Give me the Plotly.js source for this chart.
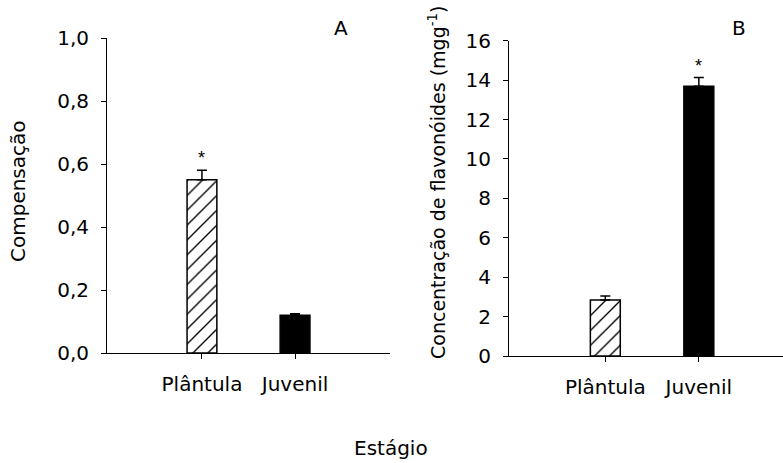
<!DOCTYPE html>
<html>
<head>
<meta charset="utf-8">
<script src="https://cdn.plot.ly/plotly-3.0.1.min.js"></script>
<style>html,body{margin:0;padding:0;background:#fff;}#chart{width:783px;height:463px;}</style>
</head>
<body>
<div id="chart"></div>
<script>
// Data
const categories = ['Plântula', 'Juvenil'];
const compensacao = [0.55, 0.12];
const compensacaoErr = [0.03, 0.005];
const flavonoides = [2.84, 13.69];
const flavonoidesErr = [0.2, 0.44];
const sigA = [true, false];
const sigB = [false, true];
const hatched = [true, false];
const ticksA = [0, 0.2, 0.4, 0.6, 0.8, 1.0];
const ticksB = [0, 2, 4, 6, 8, 10, 12, 14, 16];

const FONT = 'DejaVu Sans, Liberation Sans, Arial, sans-serif';
const FS = 20;

function barMarker(isHatched) {
  const m = {color: isHatched ? 'white' : 'black', line: {color: 'black', width: 1.5}};
  if (isHatched) m.pattern = {shape: '/', fgcolor: 'black', bgcolor: 'white', size: 10.5, solidity: 0.13};
  return m;
}

const traces = [];
categories.forEach((c, i) => {
  traces.push({
    type: 'bar', x: [c], y: [compensacao[i]], xaxis: 'x', yaxis: 'y', width: 0.32,
    marker: barMarker(hatched[i]),
    error_y: {type: 'data', symmetric: false, array: [compensacaoErr[i]], arrayminus: [0], color: 'black', thickness: 1.5, width: 5},
    showlegend: false, hoverinfo: 'none'
  });
  traces.push({
    type: 'bar', x: [c], y: [flavonoides[i]], xaxis: 'x2', yaxis: 'y2', width: 0.32,
    marker: barMarker(hatched[i]),
    error_y: {type: 'data', symmetric: false, array: [flavonoidesErr[i]], arrayminus: [0], color: 'black', thickness: 1.5, width: 5},
    showlegend: false, hoverinfo: 'none'
  });
});

const STAR = {family: 'Liberation Sans, Arial, sans-serif', size: 18, color: '#000000'};
const annotations = [];
categories.forEach((c, i) => {
  if (sigA[i]) annotations.push({xref: 'x', yref: 'y', x: c, y: compensacao[i] + compensacaoErr[i], text: '*', showarrow: false, yanchor: 'bottom', yshift: 0, font: STAR});
  if (sigB[i]) annotations.push({xref: 'x2', yref: 'y2', x: c, y: flavonoides[i] + flavonoidesErr[i], text: '*', showarrow: false, yanchor: 'bottom', yshift: 0, font: STAR});
});
annotations.push(
  {xref: 'paper', yref: 'paper', x: 341/783, y: 1 - 28/463, text: 'A', showarrow: false, xanchor: 'center', yanchor: 'middle', font: {family: FONT, size: FS, color: 'black'}},
  {xref: 'paper', yref: 'paper', x: 739/783, y: 1 - 28/463, text: 'B', showarrow: false, xanchor: 'center', yanchor: 'middle', font: {family: FONT, size: FS, color: 'black'}},
  {xref: 'paper', yref: 'paper', x: 18/783, y: 1 - 191/463, text: 'Compensação', textangle: -90, showarrow: false, xanchor: 'center', yanchor: 'middle', font: {family: FONT, size: FS, color: 'black'}},
  {xref: 'paper', yref: 'paper', x: 437/783, y: 1 - 183/463, text: 'Concentração de flavonóides (mgg<sup>-1</sup>)', textangle: -90, showarrow: false, xanchor: 'center', yanchor: 'middle', font: {family: FONT, size: FS - 1, color: 'black'}},
  {xref: 'paper', yref: 'paper', x: 391/783, y: 1 - 448/463, text: 'Estágio', showarrow: false, xanchor: 'center', yanchor: 'middle', font: {family: FONT, size: FS, color: 'black'}}
);

const xcommon = {
  type: 'category', categoryorder: 'array', categoryarray: categories,
  showline: true, linecolor: 'black', linewidth: 1, ticks: 'outside', ticklen: 5, tickcolor: 'black', tickwidth: 1,
  showgrid: false, zeroline: false, tickfont: {family: FONT, size: FS, color: 'black'}, ticklabelstandoff: 8, fixedrange: true, automargin: false
};
const ycommon = {
  showline: true, linecolor: 'black', linewidth: 1, ticks: 'outside', ticklen: 5, tickcolor: 'black', tickwidth: 1,
  showgrid: false, zeroline: false, tickfont: {family: FONT, size: FS, color: 'black'}, ticklabelstandoff: 8, fixedrange: true, automargin: false
};

const layout = {
  width: 783, height: 463,
  margin: {l: 0, r: 0, t: 0, b: 0},
  paper_bgcolor: 'white', plot_bgcolor: 'rgba(0,0,0,0)',
  separators: ',.',
  barmode: 'overlay',
  showlegend: false,
  xaxis: Object.assign({}, xcommon, {domain: [107/783, 390/783], range: [-1.02, 2.02], anchor: 'y'}),
  yaxis: Object.assign({}, ycommon, {domain: [1 - 353/463, 1 - 38/463], range: [0, 1.0], tickvals: ticksA, tickformat: '.1f', anchor: 'x'}),
  xaxis2: Object.assign({}, xcommon, {domain: [509/783, 1], range: [-1.03, 1.9], anchor: 'y2'}),
  yaxis2: Object.assign({}, ycommon, {domain: [1 - 356/463, 1 - 40.7/463], range: [0, 16], tickvals: ticksB, tickformat: 'd', anchor: 'x2'}),
  annotations: annotations
};

Plotly.newPlot('chart', traces, layout, {displayModeBar: false, staticPlot: true});
</script>
</body>
</html>
